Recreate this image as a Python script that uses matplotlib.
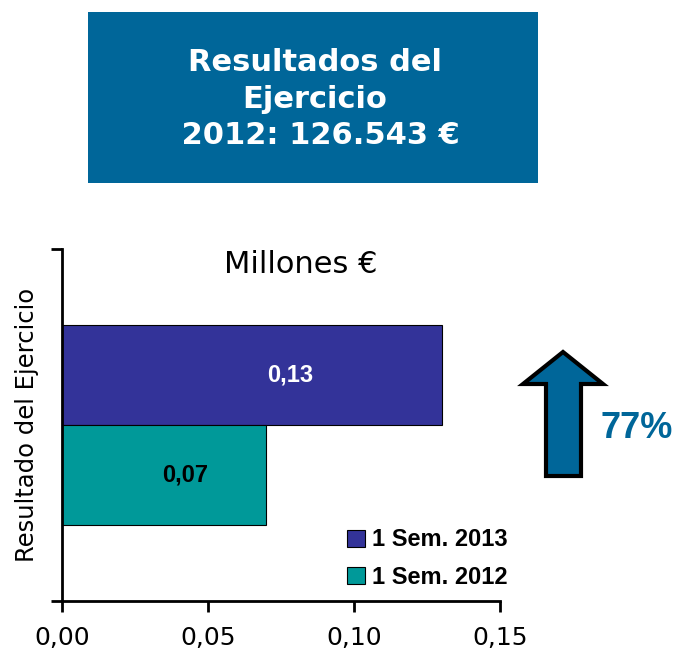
import matplotlib
matplotlib.use('Agg')
import matplotlib.pyplot as plt
from matplotlib.patches import Rectangle, Polygon, Patch

series = ['1 Sem. 2013', '1 Sem. 2012']
values = [0.13, 0.07]
value_labels = ['0,13', '0,07']
bar_colors = ['#333399', '#009999']
label_colors = ['white', 'black']
xticks = [0.0, 0.05, 0.10, 0.15]
xtick_labels = ['0,00', '0,05', '0,10', '0,15']
growth = '77%'
header = 'Resultados del\nEjercicio\n 2012: 126.543 €'
blue = '#006699'

fig = plt.figure(figsize=(6.76, 6.5), dpi=100)

# overlay in pixel coords for header box and arrow
ov = fig.add_axes([0, 0, 1, 1])
ov.set_xlim(0, 676)
ov.set_ylim(650, 0)
ov.axis('off')
ov.add_patch(Rectangle((88, 12), 450, 171, facecolor=blue, edgecolor='none'))
ov.text(315, 99, header, color='white', fontsize=22, fontweight='bold',
        family='DejaVu Sans', ha='center', va='center', linespacing=1.34)
arrow = [(546, 476), (581, 476), (581, 384), (603, 384), (563, 352), (523, 384), (546, 384)]
ov.add_patch(Polygon(arrow, closed=True, facecolor=blue, edgecolor='black', linewidth=3, joinstyle='miter'))
ov.text(637, 429, growth, color=blue, fontsize=26, fontweight='bold',
        family='Liberation Sans', ha='center', va='center')

ax = fig.add_axes([62/676, 49/650, 438/676, 352/650])
h = 0.57
ypos = [h/2, -h/2]
for y, v, c, lab, lc in zip(ypos, values, bar_colors, value_labels, label_colors):
    ax.barh(y, v, height=h, color=c, edgecolor='black', linewidth=0.8)
    ax.text(v*0.6, y, lab, color=lc, fontsize=17, fontweight='bold',
            family='Liberation Sans', ha='center', va='center')

ax.set_xlim(0, 0.15)
ax.set_ylim(-1, 1)
ax.set_xticks(xticks)
ax.set_xticklabels(xtick_labels, fontsize=18, family='DejaVu Sans')
ax.set_yticks([-1, 1])
ax.set_yticklabels([])
ax.tick_params(axis='both', direction='out', length=8, width=2, colors='black')
ax.tick_params(axis='x', pad=10)
for s in ['top', 'right']:
    ax.spines[s].set_visible(False)
for s in ['left', 'bottom']:
    ax.spines[s].set_linewidth(2)
ax.set_ylabel('Resultado del Ejercicio', fontsize=17.5, family='DejaVu Sans', labelpad=5)
ax.text(0.545, 0.955, 'Millones €', transform=ax.transAxes, fontsize=22,
        family='DejaVu Sans', ha='center', va='center')

handles = [Patch(facecolor=c, edgecolor='black', linewidth=0.8) for c in bar_colors]
ax.legend(handles, series, loc='lower right', frameon=False,
          prop={'family': 'Liberation Sans', 'weight': 'bold', 'size': 17},
          handlelength=0.75, handleheight=0.75, handletextpad=0.3, labelspacing=0.6,
          bbox_to_anchor=(1.065, -0.025))

fig.savefig('out.png', dpi=100)
